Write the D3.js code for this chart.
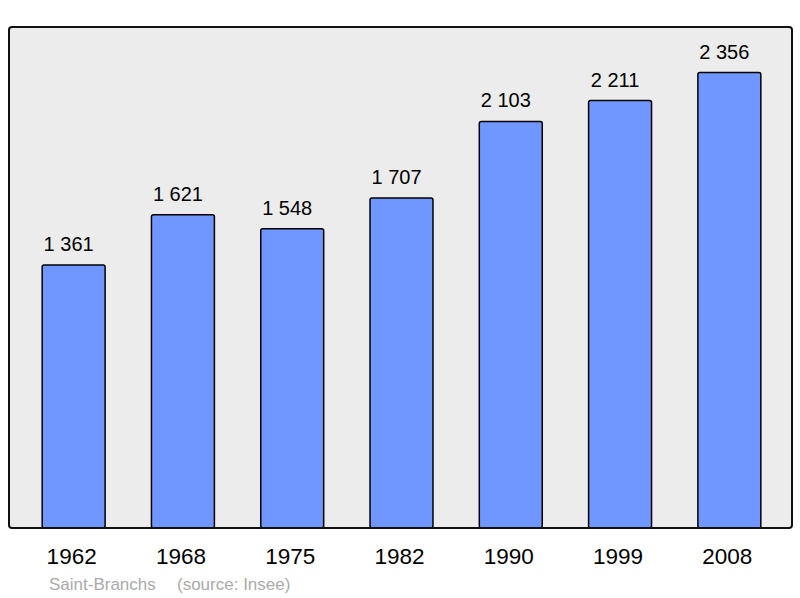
<!DOCTYPE html>
<meta charset="utf-8">
<style>
  body { margin: 0; background: #fff; font-family: "Liberation Sans", Arial, sans-serif; }
</style>
<body>
<script src="https://d3js.org/d3.v7.min.js"></script>
<script>
  // data
  var years = ["1962", "1968", "1975", "1982", "1990", "1999", "2008"];
  var population = [1361, 1621, 1548, 1707, 2103, 2211, 2356];
  var townName = "Saint-Branchs";
  var sourceNote = "(source: Insee)";

  var W = 800, H = 598;
  var frame = { left: 9, top: 27, right: 792, bottom: 528 };

  var svg = d3.select("body").append("svg")
    .attr("width", W)
    .attr("height", H);

  // plot background
  svg.append("rect")
    .attr("x", frame.left)
    .attr("y", frame.top)
    .attr("width", frame.right - frame.left)
    .attr("height", frame.bottom - frame.top)
    .attr("rx", 3)
    .style("fill", "#ececec")
    .style("stroke", "none");

  var x = d3.scaleBand()
    .domain(years)
    .range([19, 784])
    .paddingInner(0.424)
    .paddingOuter(0.212);

  var y = d3.scaleLinear()
    .domain([0, d3.max(population) * 1.1])
    .range([frame.bottom, frame.top]);

  var fmt = function (v) { return d3.format(",")(v).replace(/,/g, " "); };

  var bars = svg.selectAll(".bar")
    .data(years)
    .enter();

  bars.append("rect")
    .attr("x", function (d) { return x(d); })
    .attr("y", function (d, i) { return y(population[i]); })
    .attr("width", x.bandwidth())
    .attr("height", function (d, i) { return frame.bottom - y(population[i]); })
    .attr("rx", 2)
    .style("fill", "#7097ff")
    .style("stroke", "#000")
    .style("stroke-width", 1.5);

  // value labels sit a little left of the bar centre
  bars.append("text")
    .attr("x", function (d) { return x(d) + x.bandwidth() / 2 - 5; })
    .attr("y", function (d, i) { return y(population[i]) - 14; })
    .attr("text-anchor", "middle")
    .style("font-size", "20px")
    .style("fill", "#000")
    .text(function (d, i) { return fmt(population[i]); });

  // x axis labels
  svg.append("g")
    .attr("transform", "translate(-2," + frame.bottom + ")")
    .call(d3.axisBottom(x).tickSize(0).tickPadding(20))
    .call(function (g) { g.select(".domain").remove(); })
    .selectAll("text")
    .style("font-family", "'Liberation Sans', Arial, sans-serif")
    .style("font-size", "22.5px")
    .style("fill", "#000");

  // frame outline
  svg.append("rect")
    .attr("x", frame.left)
    .attr("y", frame.top)
    .attr("width", frame.right - frame.left)
    .attr("height", frame.bottom - frame.top)
    .attr("rx", 3)
    .style("fill", "none")
    .style("stroke", "#111")
    .style("stroke-width", 2);

  svg.append("text")
    .attr("x", 49)
    .attr("y", 590)
    .style("font-size", "17px")
    .style("fill", "#aaa")
    .text(townName);

  svg.append("text")
    .attr("x", 177)
    .attr("y", 590)
    .style("font-size", "17px")
    .style("fill", "#aaa")
    .text(sourceNote);
</script>
</body>
